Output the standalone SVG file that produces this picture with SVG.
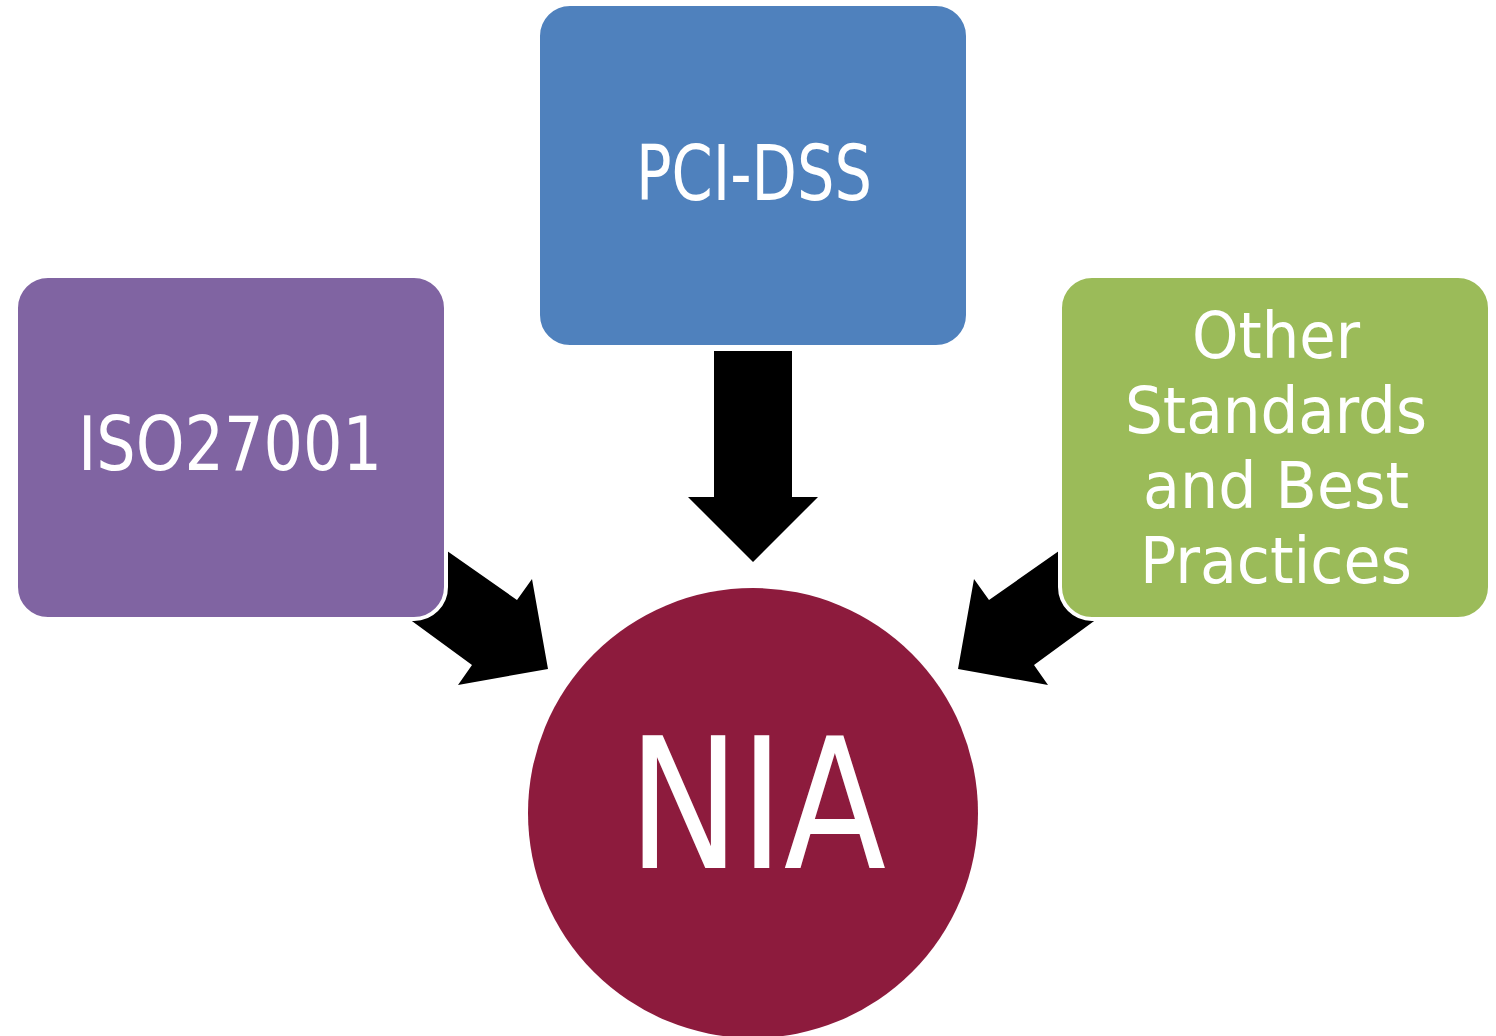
<svg xmlns="http://www.w3.org/2000/svg" width="1496" height="1036" viewBox="0 0 1496 1036">
<style>
.box{stroke:#fff;stroke-width:4}
.arrow{fill:#000}
.lbl{fill:#fff;font-family:"Liberation Sans Narrow","DejaVu Sans Condensed","Liberation Sans",sans-serif;text-anchor:middle}
</style>
<rect width="1496" height="1036" fill="#fff"/>
<g id="connectors">
<polygon class="arrow" points="714,351 792,351 792,497 818,497 753,562 688,497 714,497"/>
<polygon class="arrow" points="420,532 517,600 532,579 548,669 458,685 472,665 390,605"/>
<polygon class="arrow" points="1086,532 989,600 974,579 958,669 1048,685 1034,665 1116,605"/>
</g>
<g id="node-iso">
<rect class="box" x="16" y="276" width="430" height="343" rx="32" fill="#8064A2"/>
<text class="lbl" x="230" y="470" font-size="74" textLength="304" lengthAdjust="spacingAndGlyphs">ISO27001</text>
</g>
<g id="node-pci">
<rect class="box" x="538" y="4" width="430" height="343" rx="32" fill="#4F81BD"/>
<text class="lbl" x="754" y="200" font-size="76" textLength="236" lengthAdjust="spacingAndGlyphs">PCI-DSS</text>
</g>
<g id="node-other">
<rect class="box" x="1060" y="276" width="430" height="343" rx="32" fill="#9BBB59"/>
<text class="lbl" x="1276" y="358" font-size="64" textLength="168" lengthAdjust="spacingAndGlyphs">Other</text>
<text class="lbl" x="1276" y="433" font-size="64" textLength="302" lengthAdjust="spacingAndGlyphs">Standards</text>
<text class="lbl" x="1276" y="508" font-size="64" textLength="266" lengthAdjust="spacingAndGlyphs">and Best</text>
<text class="lbl" x="1276" y="583" font-size="64" textLength="272" lengthAdjust="spacingAndGlyphs">Practices</text>
</g>
<g id="node-nia">
<circle cx="753" cy="813" r="225" fill="#8D1B3D"/>
<text class="lbl" x="757" y="868" font-size="182" textLength="258" lengthAdjust="spacingAndGlyphs">NIA</text>
</g>
</svg>
